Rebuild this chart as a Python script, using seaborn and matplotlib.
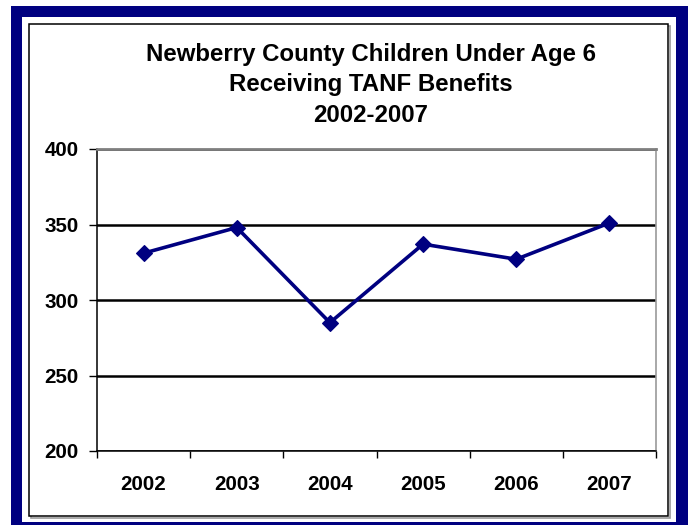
import matplotlib
matplotlib.use("Agg")
import matplotlib.pyplot as plt
import matplotlib.patches as mpatches
import seaborn as sns
import pandas as pd

years = ["2002", "2003", "2004", "2005", "2006", "2007"]
children = [331, 348, 285, 337, 327, 351]
y_ticks = [200, 250, 300, 350, 400]

title_lines = [
    "Newberry County Children Under Age 6",
    "Receiving TANF Benefits",
    "2002-2007",
]

NAVY = "#000080"
W, H = 689, 525

sns.set_theme(style="white")
plt.rcParams["font.family"] = ["Liberation Sans", "DejaVu Sans"]

fig = plt.figure(figsize=(W / 100, H / 100), dpi=100)
fig.patch.set_facecolor("white")


def box(x0, y0, x1, y1, **kw):
    """Rectangle given in pixel coordinates measured from the top-left corner."""
    rect = mpatches.Rectangle(
        (x0 / W, 1 - y1 / H), (x1 - x0) / W, (y1 - y0) / H,
        transform=fig.transFigure, **kw)
    fig.patches.append(rect)


# navy frame, white mat, and thin black chart border with a soft shadow
box(11, 6, 688, 528, facecolor=NAVY, edgecolor="none", zorder=0)
box(22, 17, 676, 522, facecolor="white", edgecolor="none", zorder=0.1)
box(30.5, 25.5, 669.5, 517.5, facecolor="none", edgecolor="#9a9a9a", linewidth=1.2, zorder=0.2)
box(29, 24, 668, 516, facecolor="white", edgecolor="black", linewidth=1.1, zorder=0.3)

ax = fig.add_axes([97 / W, 1 - 451 / H, (656 - 97) / W, (451 - 149) / H])
ax.set_facecolor("white")
ax.set_zorder(1)

df = pd.DataFrame({"year": years, "children": children})
sns.lineplot(data=df, x="year", y="children", ax=ax, color=NAVY,
             linewidth=2.6, marker="D", markersize=8, markeredgecolor=NAVY,
             markeredgewidth=0.8, sort=False, zorder=3)

ax.set_xlim(-0.5, len(years) - 0.5)
ax.set_ylim(y_ticks[0], y_ticks[-1])
ax.set_yticks(y_ticks)
ax.set_yticklabels([str(v) for v in y_ticks])
ax.set_xticks(range(len(years)))
ax.set_xticklabels(years)
ax.set_xticks([i - 0.5 for i in range(len(years) + 1)], minor=True)
ax.set_xlabel("")
ax.set_ylabel("")

ax.set_axisbelow(True)
ax.yaxis.grid(True, color="black", linewidth=1.8)
ax.xaxis.grid(False)

ax.tick_params(axis="y", which="major", direction="out", length=6, width=1,
               color="black", pad=7, labelsize=14.8, left=True)
ax.tick_params(axis="x", which="major", length=0, pad=17, labelsize=14.8)
ax.tick_params(axis="x", which="minor", direction="out", length=5, width=1,
               color="black", bottom=True)
for lab in ax.get_xticklabels() + ax.get_yticklabels():
    lab.set_fontweight("bold")
    lab.set_color("black")

for side in ["left", "bottom"]:
    ax.spines[side].set_color("black")
    ax.spines[side].set_linewidth(1.1)
ax.spines["top"].set_color("#7f7f7f")
ax.spines["top"].set_linewidth(2.0)
ax.spines["right"].set_color("#9a9a9a")
ax.spines["right"].set_linewidth(1.2)
for sp in ax.spines.values():
    sp.set_visible(True)
    sp.set_zorder(2.5)

fig.text(371 / W, 1 - 85 / H, "\n".join(title_lines), ha="center", va="center",
         fontsize=17.3, fontweight="bold", color="black", linespacing=1.4)

fig.savefig("out.png", dpi=100, facecolor=fig.get_facecolor())
